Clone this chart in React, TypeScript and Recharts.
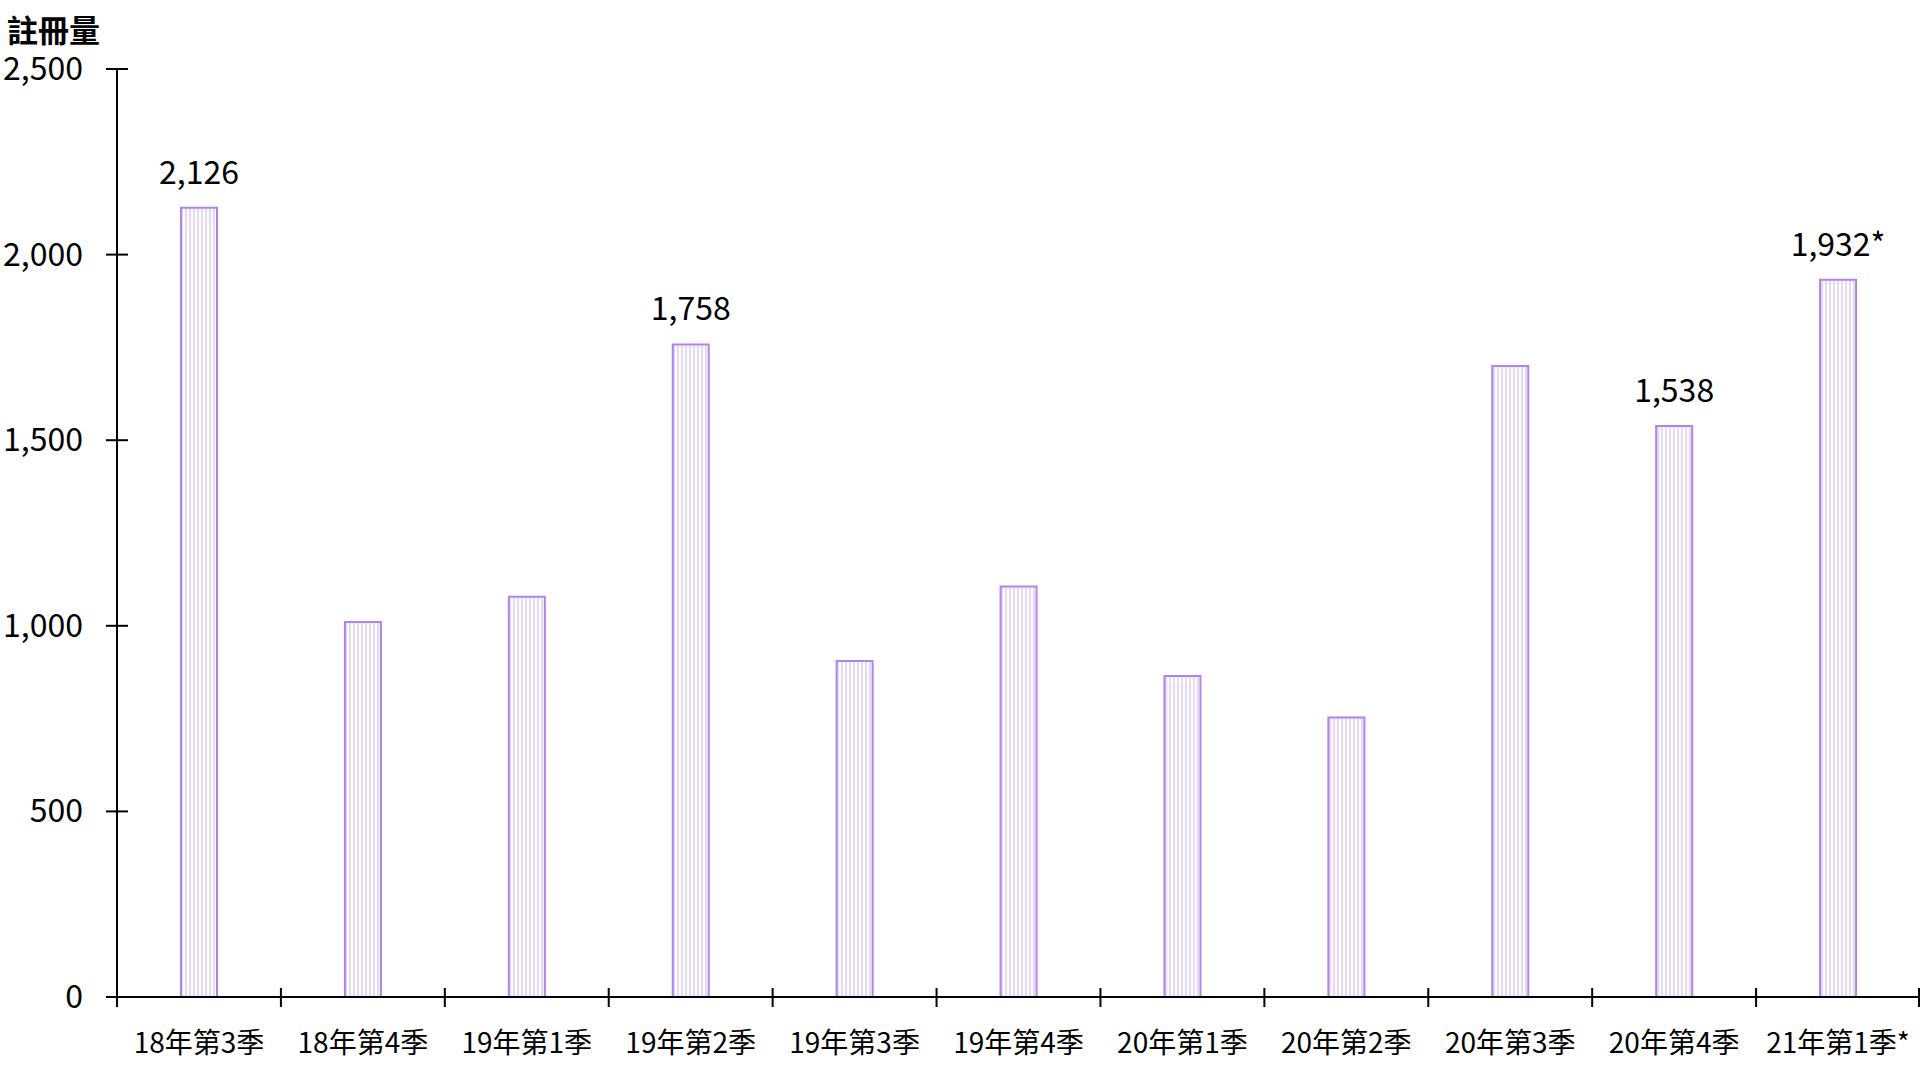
import { BarChart, Bar, XAxis, YAxis, LabelList } from "recharts";

const quarters = [
  "18年第3季", "18年第4季", "19年第1季", "19年第2季", "19年第3季", "19年第4季",
  "20年第1季", "20年第2季", "20年第3季", "20年第4季", "21年第1季*",
];
const registrations = [2126, 1010, 1078, 1758, 905, 1106, 865, 753, 1700, 1538, 1932];
const valueLabels = ["2,126", null, null, "1,758", null, null, null, null, null, "1,538", "1,932*"];
const yTicks = [0, 500, 1000, 1500, 2000, 2500];

const data = quarters.map((q, i) => ({ quarter: q, count: registrations[i], label: valueLabels[i] }));

const FONT = "'Noto Sans CJK TC', 'Noto Sans', sans-serif";
const PLOT_LEFT = 117;
const BAND = (1920 - PLOT_LEFT) / quarters.length;

function YTick({ x, y, payload }: any) {
  return (
    <g>
      <line x1={x - 11} x2={x + 11} y1={y} y2={y} stroke="#000" strokeWidth={2} />
      <text x={83} y={y - 3} textAnchor="end" dominantBaseline="central" fontSize={32} fontFamily={FONT} fill="#000">
        {payload.value.toLocaleString("en-US")}
      </text>
    </g>
  );
}

function XTick({ x, y, payload, index }: any) {
  const left = x - BAND / 2;
  return (
    <g>
      <line x1={left} x2={left} y1={y - 9} y2={y + 10} stroke="#000" strokeWidth={2} />
      {index === quarters.length - 1 && (
        <line x1={x + BAND / 2 - 1} x2={x + BAND / 2 - 1} y1={y - 9} y2={y + 10} stroke="#000" strokeWidth={2} />
      )}
      <text x={x} y={y + 56} textAnchor="middle" fontSize={28} fontFamily={FONT} fill="#000">
        {payload.value}
      </text>
    </g>
  );
}

function ValueLabel(props: any) {
  const { x, y, width, value } = props;
  if (!value) return null;
  return (
    <text x={x + width / 2} y={y - 24} textAnchor="middle" fontSize={32} fontFamily={FONT} fill="#000">
      {value}
    </text>
  );
}

export default function App() {
  return (
    <div style={{ position: "absolute", left: 0, top: 0, width: 1920, height: 1080, background: "#fff" }}>
      <BarChart width={1920} height={1080} data={data} margin={{ top: 69, right: 0, left: 0, bottom: 0 }}>
        <defs>
          <pattern id="stripes" patternUnits="userSpaceOnUse" width={4} height={10}>
            <rect x={0} y={0} width={4} height={10} fill="#fff" />
            <rect x={1} y={0} width={2} height={10} fill="#e6d9f5" />
          </pattern>
        </defs>
        <text x={7} y={42} fontSize={31} fontWeight="bold" fontFamily={FONT} fill="#000">
          註冊量
        </text>
        <YAxis
          width={PLOT_LEFT}
          domain={[0, 2500]}
          ticks={yTicks}
          interval={0}
          tickLine={false}
          tickSize={0}
          tickMargin={0}
          axisLine={{ stroke: "#000", strokeWidth: 2 }}
          tick={<YTick />}
        />
        <XAxis
          dataKey="quarter"
          height={83}
          interval={0}
          tickLine={false}
          tickSize={0}
          tickMargin={0}
          axisLine={{ stroke: "#000", strokeWidth: 2 }}
          tick={<XTick />}
        />
        <Bar dataKey="count" barSize={36} fill="url(#stripes)" stroke="#b283e6" strokeWidth={2} isAnimationActive={false}>
          <LabelList dataKey="label" content={<ValueLabel />} />
        </Bar>
      </BarChart>
    </div>
  );
}
